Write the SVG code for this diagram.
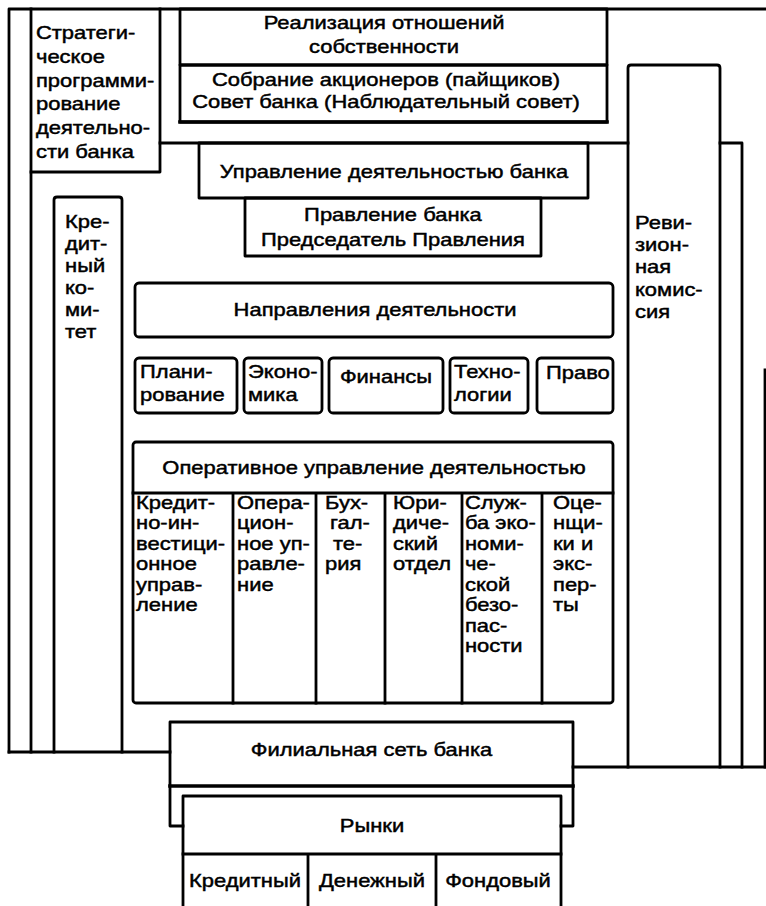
<svg xmlns="http://www.w3.org/2000/svg" width="766" height="906" viewBox="0 0 766 906">
<style>
.ln{fill:none;stroke:#000;stroke-width:2.8;stroke-linejoin:round;stroke-linecap:square}
.th{fill:none;stroke:#000;stroke-width:3.6;stroke-linecap:square}
.t{font-family:"Liberation Sans",Arial,Helvetica,sans-serif;font-size:18px;fill:#000;stroke:#000;stroke-width:0.45}
.m{text-anchor:middle}
</style>
<rect width="766" height="906" fill="#fff"/>
<g id="frames">
<path class="ln" d="M9,752 V9 H766"/>
<path class="ln" d="M765,370 V767"/>
<path class="ln" d="M9,752 H170"/>
<path class="ln" d="M573,767 H766"/>
<path class="ln" d="M31,9 V752"/>
<path class="ln" d="M160,143 H628 M720,143 H742 V767"/>
</g>
<g id="strategic">
<path class="ln" d="M31,172 H160 V9"/>
<g class="t" transform="scale(1.22 1)">
<text x="29.5" y="39">Стратеги-</text>
<text x="29.5" y="63">ческое</text>
<text x="29.5" y="87">программи-</text>
<text x="29.5" y="110">рование</text>
<text x="29.5" y="134">деятельно-</text>
<text x="29.5" y="158">сти банка</text>
</g>
</g>
<g id="ownership">
<rect class="ln" x="180" y="9" width="427" height="56"/>
<g class="t m" transform="scale(1.22 1)">
<text x="314.8" y="29">Реализация отношений</text>
<text x="314.8" y="53">собственности</text>
</g>
</g>
<g id="shareholders">
<rect class="ln" x="180" y="65" width="427" height="57"/>
<path class="th" d="M180,122 H607"/>
<g class="t m" transform="scale(1.22 1)">
<text x="316.4" y="86">Собрание акционеров (пайщиков)</text>
<text x="316.4" y="108">Совет банка (Наблюдательный совет)</text>
</g>
</g>
<g id="audit">
<path class="ln" d="M628,767 V68 Q628,65 631,65 H717 Q720,65 720,68 V767"/>
<g class="t" transform="scale(1.22 1)">
<text x="520.5" y="229">Реви-</text>
<text x="520.5" y="251">зион-</text>
<text x="520.5" y="273">ная</text>
<text x="520.5" y="296">комис-</text>
<text x="520.5" y="318">сия</text>
</g>
</g>
<g id="credit-committee">
<path class="ln" d="M54,752 V200 Q54,197 57,197 H119 Q122,197 122,200 V752"/>
<g class="t" transform="scale(1.22 1)">
<text x="53.3" y="228">Кре-</text>
<text x="53.3" y="250">дит-</text>
<text x="53.3" y="272">ный</text>
<text x="53.3" y="294">ко-</text>
<text x="53.3" y="316">ми-</text>
<text x="53.3" y="338">тет</text>
</g>
</g>
<g id="management">
<rect class="ln" x="199" y="143" width="389" height="55"/>
<text class="t m" transform="scale(1.22 1)" x="323" y="178">Управление деятельностью банка</text>
</g>
<g id="board">
<rect class="ln" x="245" y="198" width="296" height="58"/>
<g class="t m" transform="scale(1.22 1)">
<text x="322.1" y="221">Правление банка</text>
<text x="322.1" y="246">Председатель Правления</text>
</g>
</g>
<g id="directions">
<rect class="ln" x="135" y="283" width="478" height="54" rx="4"/>
<text class="t m" transform="scale(1.22 1)" x="307.4" y="316">Направления деятельности</text>
</g>
<g id="planning">
<rect class="ln" x="135" y="358" width="102" height="55" rx="4"/>
<g class="t" transform="scale(1.22 1)">
<text x="114.8" y="378">Плани-</text>
<text x="114.8" y="401">рование</text>
</g>
</g>
<g id="economics">
<rect class="ln" x="244" y="358" width="78" height="55" rx="4"/>
<g class="t" transform="scale(1.22 1)">
<text x="203.3" y="378">Эконо-</text>
<text x="203.3" y="401">мика</text>
</g>
</g>
<g id="finance">
<rect class="ln" x="329" y="358" width="114" height="55" rx="4"/>
<text class="t m" transform="scale(1.22 1)" x="316.4" y="383">Финансы</text>
</g>
<g id="technology">
<rect class="ln" x="450" y="358" width="78" height="55" rx="4"/>
<g class="t" transform="scale(1.22 1)">
<text x="372.1" y="378">Техно-</text>
<text x="372.1" y="401">логии</text>
</g>
</g>
<g id="law">
<rect class="ln" x="537" y="358" width="76" height="55" rx="4"/>
<text class="t" transform="scale(1.22 1)" x="447.5" y="379">Право</text>
</g>
<g id="operational">
<rect class="ln" x="133" y="442" width="480" height="261" rx="3"/>
<path class="ln" d="M133,493 H613 M233,493 V703 M316,493 V703 M385,493 V703 M462,493 V703 M542,493 V703"/>
<text class="t m" transform="scale(1.22 1)" x="306.6" y="474">Оперативное управление деятельностью</text>
<g class="t" transform="scale(1.22 1)">
<text x="111.5" y="509">Кредит-</text>
<text x="111.5" y="529.5">но-ин-</text>
<text x="111.5" y="550">вестици-</text>
<text x="111.5" y="570.5">онное</text>
<text x="111.5" y="591">управ-</text>
<text x="111.5" y="611.5">ление</text>
<text x="194.3" y="509">Опера-</text>
<text x="194.3" y="529.5">цион-</text>
<text x="194.3" y="550">ное уп-</text>
<text x="194.3" y="570.5">равле-</text>
<text x="194.3" y="591">ние</text>
<text x="266.4" y="509">Бух-</text>
<text x="270.5" y="529.5">гал-</text>
<text x="273" y="550">те-</text>
<text x="266.4" y="570.5">рия</text>
<text x="322.1" y="509">Юри-</text>
<text x="322.1" y="529.5">диче-</text>
<text x="322.1" y="550">ский</text>
<text x="322.1" y="570.5">отдел</text>
<text x="381.1" y="509">Служ-</text>
<text x="381.1" y="529.5">ба эко-</text>
<text x="381.1" y="550">номи-</text>
<text x="381.1" y="570.5">че-</text>
<text x="381.1" y="591">ской</text>
<text x="381.1" y="611.5">безо-</text>
<text x="381.1" y="632">пас-</text>
<text x="381.1" y="652.5">ности</text>
<text x="453.3" y="509">Оце-</text>
<text x="453.3" y="529.5">нщи-</text>
<text x="453.3" y="550">ки и</text>
<text x="453.3" y="570.5">экс-</text>
<text x="453.3" y="591">пер-</text>
<text x="453.3" y="611.5">ты</text>
</g>
</g>
<g id="branches">
<path class="ln" d="M183,826 H170 V722 H573 V826 H561"/>
<path class="th" d="M170,786 H573"/>
<text class="t m" transform="scale(1.22 1)" x="304.5" y="756">Филиальная сеть банка</text>
</g>
<g id="markets">
<path class="ln" d="M183,912 V796 H561 V912"/>
<path class="ln" d="M183,854 H561 M308,854 V912 M436,854 V912"/>
<g class="t m" transform="scale(1.22 1)">
<text x="304.9" y="832">Рынки</text>
<text x="200.8" y="887">Кредитный</text>
<text x="304.9" y="887">Денежный</text>
<text x="408.2" y="887">Фондовый</text>
</g>
</g>
</svg>
